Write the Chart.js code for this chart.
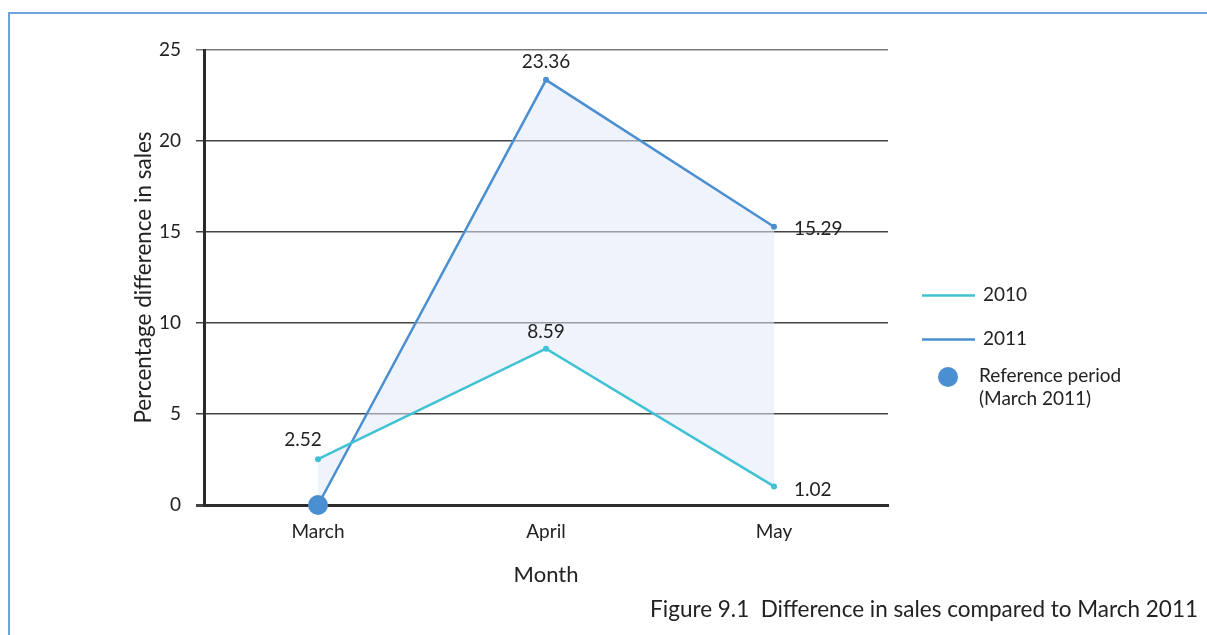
<!DOCTYPE html>
<html>
<head>
<meta charset="utf-8">
<script src="https://cdn.jsdelivr.net/npm/chart.js@4/dist/chart.umd.min.js"></script>
<style>
  html, body { margin: 0; padding: 0; background: #fff; }
  #wrap { position: relative; width: 1207px; height: 635px; overflow: hidden; }
  #frame { position: absolute; left: 8px; top: 12px; right: -10px; bottom: -10px;
           border-left: 2px solid #6fa3de; border-top: 2px solid #6fa3de; }
  canvas { position: absolute; left: 0; top: 0; }
</style>
</head>
<body>
<div id="wrap">
  <div id="frame"></div>
  <canvas id="c" width="1207" height="635"></canvas>
</div>
<script>
const months = ['March', 'April', 'May'];
const sales2010 = [2.52, 8.59, 1.02];
const sales2011 = [0, 23.36, 15.29];
const yTicks = [0, 5, 10, 15, 20, 25];
const seriesNames = ['2010', '2011'];
const referenceLabel = ['Reference period', '(March 2011)'];
const caption = 'Figure 9.1  Difference in sales compared to March 2011';

const FONT = 'Lato, "Open Sans", "Noto Sans", sans-serif';
const C2010 = '#40c2d4';
const C2011 = '#4a8fd1';
const TEXT = '#222';

// Value labels beside each point, the legend block and the figure caption
const annotate = {
  id: 'annotate',
  afterDatasetsDraw(chart) {
    const ctx = chart.ctx;
    ctx.save();
    ctx.fillStyle = TEXT;
    ctx.font = '19px ' + FONT;
    ctx.textBaseline = 'middle';
    const place = [
      // [dx, dy, align] per point
      [[-15, -19, 'center'], [0, -17, 'center'], [20, 3, 'left']],
      [[0, 0, 'center'], [0, -18, 'center'], [20, 2, 'left']]
    ];
    chart.data.datasets.forEach((ds, di) => {
      const meta = chart.getDatasetMeta(di);
      meta.data.forEach((pt, i) => {
        if (di === 1 && i === 0) return; // reference point has no label
        const [dx, dy, al] = place[di][i];
        ctx.textAlign = al;
        ctx.fillText(ds.data[i].toFixed(2), pt.x + dx, pt.y + dy);
      });
    });

    // legend
    ctx.textAlign = 'left';
    ctx.lineWidth = 2.5;
    [[C2010, 295, seriesNames[0]], [C2011, 339, seriesNames[1]]].forEach(([col, y, t]) => {
      ctx.strokeStyle = col;
      ctx.beginPath();
      ctx.moveTo(922, y + 0.5);
      ctx.lineTo(975, y + 0.5);
      ctx.stroke();
      ctx.fillText(t, 983, y);
    });
    ctx.fillStyle = C2011;
    ctx.beginPath();
    ctx.arc(948, 377, 10, 0, Math.PI * 2);
    ctx.fill();
    ctx.fillStyle = TEXT;
    ctx.fillText(referenceLabel[0], 979, 376);
    ctx.fillText(referenceLabel[1], 979, 399);

    // caption
    ctx.font = '22.5px ' + FONT;
    ctx.textAlign = 'right';
    ctx.fillText(caption, 1198, 610);
    ctx.restore();
  }
};

new Chart(document.getElementById('c'), {
  type: 'line',
  data: {
    labels: months,
    datasets: [
      {
        label: seriesNames[0],
        data: sales2010,
        borderColor: C2010,
        backgroundColor: C2010,
        borderWidth: 2.5,
        pointRadius: 3,
        pointBackgroundColor: C2010,
        pointBorderWidth: 0,
        tension: 0,
        clip: false,
        fill: false
      },
      {
        label: seriesNames[1],
        data: sales2011,
        borderColor: C2011,
        backgroundColor: 'rgba(222,230,246,0.45)',
        borderWidth: 2.5,
        pointRadius: [10, 3, 3],
        pointBackgroundColor: C2011,
        pointBorderWidth: 0,
        tension: 0,
        clip: false,
        fill: { target: 0, above: 'rgba(226,233,247,0.55)', below: 'rgba(226,233,247,0.55)' }
      }
    ]
  },
  options: {
    responsive: false,
    animation: false,
    layout: { padding: { left: 0, right: 319, top: 50, bottom: 0 } },
    plugins: { legend: { display: false }, tooltip: { enabled: false } },
    scales: {
      x: {
        offset: true,
        grid: { display: false, drawTicks: false },
        border: { display: true, color: '#2b2b2b', width: 3 },
        ticks: { color: TEXT, font: { family: FONT, size: 19 }, padding: 15 },
        title: {
          display: true, text: 'Month', color: TEXT,
          font: { family: FONT, size: 22 }, padding: { top: 0, bottom: 47 }
        },
        afterFit(s) { s.height = 130; }
      },
      y: {
        min: 0, max: 25,
        afterBuildTicks(s) { s.ticks = yTicks.map(v => ({ value: v })); },
        grid: {
          color: c => (c.tick && c.tick.value === 25 ? '#7a7a7a' : '#444'),
          lineWidth: c => (c.tick && c.tick.value === 0 ? 3 : 1.5),
          tickLength: 8
        },
        border: { display: true, color: '#2b2b2b', width: 3 },
        ticks: { color: TEXT, font: { family: FONT, size: 19 }, padding: 15 },
        title: {
          display: true, text: 'Percentage difference in sales', color: TEXT,
          font: { family: FONT, size: 22.5 }, padding: { top: 130, bottom: 0 }
        },
        afterFit(s) { s.width = 204; }
      }
    }
  },
  plugins: [annotate]
});
</script>
</body>
</html>
